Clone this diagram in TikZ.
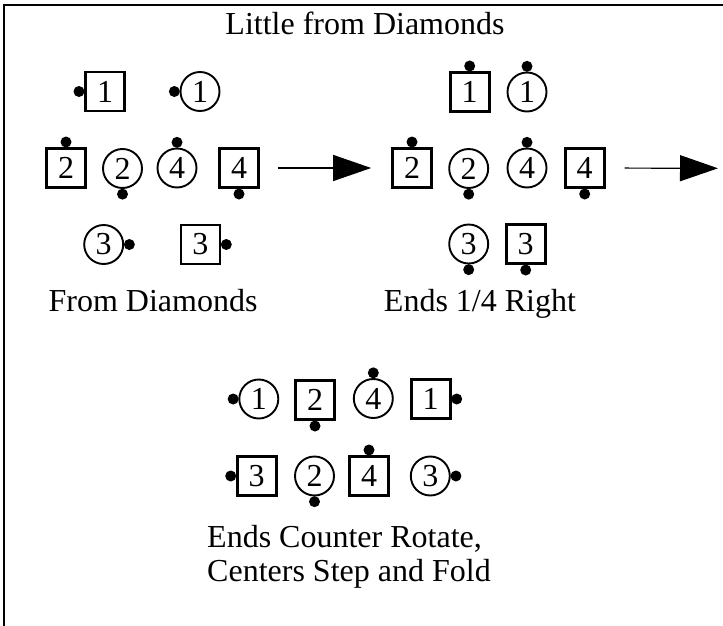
\documentclass[tikz,border=0pt]{standalone}
\usepackage{fontspec}
\setmainfont{Liberation Serif}
\usetikzlibrary{arrows.meta,positioning}
\tikzset{
  sq/.style={draw, line width=2.6pt, minimum size=39pt, inner sep=0pt, font=\fontsize{32}{34}\selectfont},
  ci/.style={draw, circle, line width=1.9pt, minimum size=39pt, inner sep=0pt, font=\fontsize{32}{34}\selectfont},
  dot/.style={fill, circle, minimum size=11pt, inner sep=0pt},
  lbl/.style={font=\fontsize{32}{34}\selectfont, inner sep=0pt, anchor=base},
  arr/.style={line width=1.2pt, -{Triangle[length=38pt,width=26pt]}},
  frame/.style={line width=2.6pt}
}
\newcommand{\dg}[1]{\raisebox{-4pt}{#1}}
\begin{document}
\begin{tikzpicture}[x=1pt,y=-1pt]
\useasboundingbox (0,0) rectangle (723,626);
\draw[frame] (4,640) -- (4,5) -- (740,5);
\node[lbl] (title) at (365,35) {Little from Diamonds};

% group 1
\node[sq] (a1s1) at (105,91.5) {\dg{1}};
\node[dot, left=-0.5pt of a1s1] (a1s1d) {};
\node[ci] (a1c1) at (200,91.5) {\dg{1}};
\node[dot, left=-0.5pt of a1c1] (a1c1d) {};
\node[sq] (a1s2) at (66,168) {\dg{2}};
\node[dot, above=-0.5pt of a1s2] (a1s2d) {};
\node[ci] (a1c2) at (122.5,168.5) {\dg{2}};
\node[dot, below=-0.5pt of a1c2] (a1c2d) {};
\node[ci] (a1c4) at (177,168) {\dg{4}};
\node[dot, above=-0.5pt of a1c4] (a1c4d) {};
\node[sq] (a1s4) at (239,168) {\dg{4}};
\node[dot, below=-0.5pt of a1s4] (a1s4d) {};
\node[ci] (a1c3) at (103.7,244.5) {\dg{3}};
\node[dot, right=-0.5pt of a1c3] (a1c3d) {};
\node[sq] (a1s3) at (200.3,244.5) {\dg{3}};
\node[dot, right=-0.5pt of a1s3] (a1s3d) {};
\node[lbl] (l1) at (153,311) {From Diamonds};

% group 2
\node[sq] (a2s1) at (469.7,92) {\dg{1}};
\node[dot, above=-0.5pt of a2s1] (a2s1d) {};
\node[ci] (a2c1) at (527,92) {\dg{1}};
\node[dot, above=-0.5pt of a2c1] (a2c1d) {};
\node[sq] (a2s2) at (412,168) {\dg{2}};
\node[dot, above=-0.5pt of a2s2] (a2s2d) {};
\node[ci] (a2c2) at (468.7,168.5) {\dg{2}};
\node[dot, below=-0.5pt of a2c2] (a2c2d) {};
\node[ci] (a2c4) at (527,168) {\dg{4}};
\node[dot, above=-0.5pt of a2c4] (a2c4d) {};
\node[sq] (a2s4) at (584.7,168) {\dg{4}};
\node[dot, below=-0.5pt of a2s4] (a2s4d) {};
\node[ci] (a2c3) at (468.7,244) {\dg{3}};
\node[dot, below=-0.5pt of a2c3] (a2c3d) {};
\node[sq] (a2s3) at (525.7,244) {\dg{3}};
\node[dot, below=-0.5pt of a2s3] (a2s3d) {};
\node[lbl] (l2) at (480,311) {Ends 1/4 Right};

% arrows
\coordinate (end2) at (718,168.3);
\draw[arr, shorten <=18pt, shorten >=20pt] (a1s4) -- (a2s2);
\draw[arr, shorten <=19pt] (a2s4) -- (end2);

% group 3
\node[ci] (a3c1) at (258.8,399) {\dg{1}};
\node[dot, left=-0.5pt of a3c1] (a3c1d) {};
\node[sq] (a3s2) at (315,400) {\dg{2}};
\node[dot, below=-0.5pt of a3s2] (a3s2d) {};
\node[ci] (a3c4) at (373.3,398.5) {\dg{4}};
\node[dot, above=-0.5pt of a3c4] (a3c4d) {};
\node[sq] (a3s1) at (430.7,399) {\dg{1}};
\node[dot, right=-0.5pt of a3s1] (a3s1d) {};
\node[sq] (a3s3) at (256.7,476) {\dg{3}};
\node[dot, left=-0.5pt of a3s3] (a3s3d) {};
\node[ci] (a3c2) at (314.5,476) {\dg{2}};
\node[dot, below=-0.5pt of a3c2] (a3c2d) {};
\node[sq] (a3s4) at (369,476) {\dg{4}};
\node[dot, above=-0.5pt of a3s4] (a3s4d) {};
\node[ci] (a3c3) at (430.3,476) {\dg{3}};
\node[dot, right=-0.5pt of a3c3] (a3c3d) {};
\node[lbl, anchor=base west] (l3a) at (207,547) {Ends Counter Rotate,};
\node[lbl, anchor=base west] (l3b) at (207,581) {Centers Step and Fold};
\end{tikzpicture}
\end{document}
